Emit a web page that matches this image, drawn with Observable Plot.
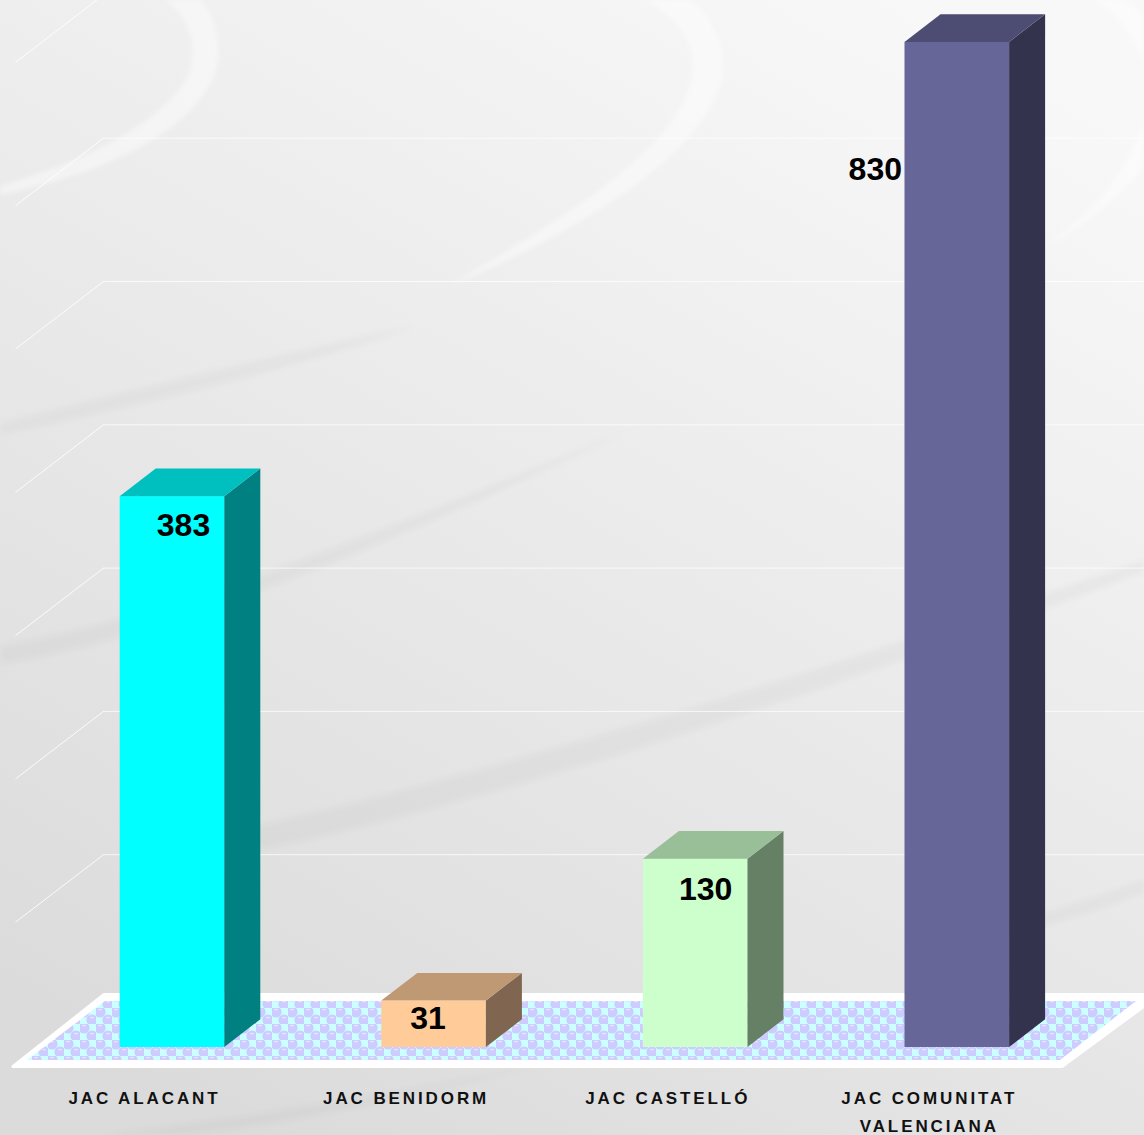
<!DOCTYPE html>
<html lang="es">
<head>
<meta charset="utf-8">
<title>JAC</title>
<script src="https://cdn.jsdelivr.net/npm/d3@7"></script>
<script src="https://cdn.jsdelivr.net/npm/@observablehq/plot@0.6"></script>
<style>
html,body{margin:0;padding:0;width:1144px;height:1135px;overflow:hidden;background:#e8e8e8}
#bg{position:absolute;left:0;top:0}
#chart{position:absolute;left:0;top:0}
</style>
</head>
<body>
<svg id="bg" width="1144" height="1135" viewBox="0 0 1144 1135">
  <defs>
    <linearGradient id="bgGrad" gradientUnits="userSpaceOnUse" x1="900" y1="0" x2="250" y2="1135">
      <stop offset="0" stop-color="#f8f8f8"/>
      <stop offset="1" stop-color="#dbdbdb"/>
    </linearGradient>
    <filter id="soft" x="-10%" y="-10%" width="120%" height="120%"><feGaussianBlur stdDeviation="2"/></filter>
    <filter id="softer" x="-10%" y="-30%" width="120%" height="160%"><feGaussianBlur stdDeviation="3"/></filter>
  </defs>
  <rect width="1144" height="1135" fill="url(#bgGrad)"/>
  <g fill="#fff" fill-opacity="0.42" filter="url(#soft)">
    <path d="M165,0 L200,0 C216,15 222,45 216,70 C198,125 120,170 0,195 L0,186 C90,160 172,118 190,70 C198,42 188,15 165,0Z"/>
    <path d="M645,0 L690,0 C715,20 727,50 722,80 C708,140 610,220 450,285 C560,220 680,150 692,75 C697,45 680,18 645,0Z"/>
    <path d="M1095,0 L1125,0 C1136,8 1144,16 1144,22 L1144,62 C1130,30 1115,12 1095,0Z"/>
    <path d="M1144,120 C1125,180 1090,215 1040,250 C1085,225 1125,195 1144,165Z"/>
  </g>
  <g fill="#000" fill-opacity="0.03" filter="url(#softer)">
    <path d="M0,425 C110,395 250,362 420,325 C280,372 120,410 0,434Z"/>
    <path d="M0,646 C140,622 320,560 640,425 C420,530 170,640 0,664Z"/>
    <path d="M240,830 C500,770 800,680 1144,560 L1144,572 C800,700 500,800 260,850Z"/>
    <path d="M920,950 C1000,925 1080,905 1144,880 L1144,892 C1080,918 1000,940 920,950Z"/>
    <path d="M100,1135 C300,1110 420,1090 560,1060 C400,1100 280,1125 180,1135Z"/>
  </g>
</svg>
<div id="chart"></div>
<script>
// --- data ---
const categories = ["JAC ALACANT", "JAC BENIDORM", "JAC CASTELLÓ", "JAC COMUNITAT\nVALENCIANA"];
const values = [383, 31, 130, 830];
const frontColors = ["#00ffff", "#ffcc99", "#ccffcc", "#666699"];
const topColors = ["#00bfbf", "#bf9973", "#99bf99", "#4d4d73"];
const sideColors = ["#008080", "#806650", "#668066", "#33334d"];
const gridTicks = [100, 200, 300, 400, 500, 600, 700];
const axisMax = 700; // the axis stops here, so the tallest bar is cut off at it

// --- scale set-up: one category step and one value unit, in pixels ---
const W = 1144, H = 1135;
const stepPx = 261.6, unitPx = 1.433, firstBarPx = 172, zeroPx = 1045;
const xu = px => px / stepPx;               // pixel width -> category units
const yu = px => px / unitPx;               // pixel height -> value units
const xAt = px => (px - firstBarPx) / stepPx;   // pixel x -> category units
const yAt = px => (zeroPx - px) / unitPx;       // pixel y -> value units

const halfBar = xu(52.3), depthX = xu(36), depthY = yu(27.7), barBase = yAt(1047);
const labelShiftX = [11, -6, 10, -82];
const labelShiftY = [29, 18, 31, 127];

const bars = categories.map((name, i) => ({
  name, i, value: values[i], drawn: Math.min(values[i], axisMax),
  front: frontColors[i], top: topColors[i], side: sideColors[i]
}));

const floorOuter = [
  {y: yAt(1066.5), x1: xAt(13), x2: xAt(1062)},
  {y: yAt(994.5), x1: xAt(104), x2: xAt(1160)}
];
const floorInner = [
  {y: yAt(1060), x1: xAt(27), x2: xAt(1060)},
  {y: yAt(1001), x1: xAt(105), x2: xAt(1136)}
];

const barMarks = bars.flatMap(b => {
  const l = b.i - halfBar, r = b.i + halfBar;
  return [
    Plot.rect([b], {x1: l, x2: r, y1: barBase, y2: b.drawn, fill: b.front}),
    Plot.areaY([{x: r, y1: barBase, y2: b.drawn}, {x: r + depthX, y1: barBase + depthY, y2: b.drawn + depthY}],
      {x: "x", y1: "y1", y2: "y2", fill: b.side}),
    Plot.areaX([{y: b.drawn, x1: l, x2: r}, {y: b.drawn + depthY, x1: l + depthX, x2: r + depthX}],
      {y: "y", x1: "x1", x2: "x2", fill: b.top})
  ];
});

const chart = Plot.plot({
  width: W, height: H,
  margin: 0,
  style: {background: "transparent", overflow: "visible"},
  x: {type: "linear", axis: null, domain: [xAt(0), xAt(W)], range: [0, W]},
  y: {type: "linear", axis: null, domain: [yAt(H), yAt(0)], range: [H, 0]},
  marks: [
    Plot.ruleY(gridTicks, {x1: xAt(103), x2: xAt(W), y: d => d, dy: -47.5, stroke: "#fff", strokeOpacity: 0.75, strokeWidth: 1}),
    Plot.link(gridTicks, {x1: xAt(15), x2: xAt(103), y1: d => d - yu(20), y2: d => d + yu(47.5), stroke: "#fff", strokeOpacity: 0.85, strokeWidth: 1}),
    Plot.areaX(floorOuter, {y: "y", x1: "x1", x2: "x2", fill: "#fff", stroke: "#fff", strokeWidth: 3, strokeLinejoin: "round"}),
    Plot.areaX(floorInner, {y: "y", x1: "x1", x2: "x2", fill: "url(#floorDots)"}),
    ...barMarks,
    Plot.text(bars, {
      x: d => d.i + xu(labelShiftX[d.i]), y: d => d.drawn - yu(labelShiftY[d.i]),
      text: d => String(d.value), fontSize: 32, fontWeight: 700,
      fontFamily: "'Liberation Sans', Arial, sans-serif", fill: "#000", textAnchor: "middle"
    }),
    Plot.text(bars, {
      x: "i", y: 0, dx: -28, dy: 39.5,
      text: "name", fontSize: 17, fontWeight: 700, lineHeight: 1.6, lineAnchor: "top",
      fontFamily: "'Liberation Sans', Arial, sans-serif", fill: "#111", textAnchor: "middle"
    })
  ]
});

// floor pattern and tick-label tracking
const svg = d3.select(chart);
const pat = svg.insert("defs", ":first-child").append("pattern")
  .attr("id", "floorDots").attr("patternUnits", "userSpaceOnUse")
  .attr("width", 16).attr("height", 16);
pat.append("rect").attr("width", 16).attr("height", 16).attr("fill", "#ccffff");
[[4, 4], [12, 12]].forEach(([cx, cy]) => {
  pat.append("circle").attr("cx", cx).attr("cy", cy).attr("r", 5.6).attr("fill", "#ccccff");
  pat.append("ellipse").attr("cx", cx).attr("cy", cy - 2.4).attr("rx", 2).attr("ry", 0.9).attr("fill", "#e4e4ff");
});
svg.selectAll('g[font-size="17"] text').style("letter-spacing", "2.9px");

document.getElementById("chart").appendChild(chart);
</script>
</body>
</html>
